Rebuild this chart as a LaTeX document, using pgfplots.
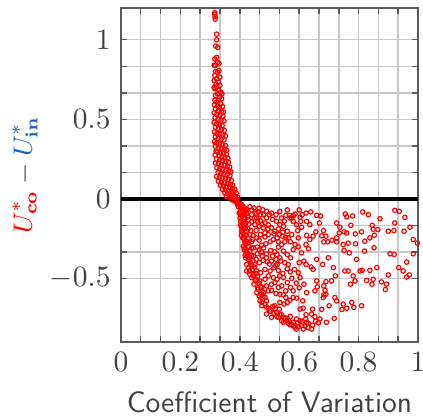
\documentclass[border=0pt]{standalone}
\usepackage{pgfplots}
\pgfplotsset{compat=1.18}
\definecolor{txtgray}{RGB}{64,64,64}
\definecolor{framegray}{RGB}{90,90,90}
\definecolor{gridgray}{RGB}{200,200,200}
\definecolor{ublue}{RGB}{30,95,185}
\begin{document}
\begin{tikzpicture}
\begin{axis}[
  scale only axis, width=100.7pt, height=113.2pt,
  xmin=0, xmax=1, ymin=-0.9, ymax=1.2,
  xtick={0,0.2,0.4,0.6,0.8,1}, ytick={-0.5,0,0.5,1},
  minor x tick num=2, minor y tick num=2,
  grid=both,
  grid style={draw=gridgray, line width=0.5pt},
  major grid style={draw=gridgray, line width=0.5pt},
  tick style={draw=framegray, line width=0.5pt},
  major tick length=2pt, minor tick length=2pt,
  axis line style={draw=framegray, line width=0.5pt},
  tick label style={text=txtgray},
  xlabel={\sffamily Coefficient of Variation},
  xlabel style={text=txtgray, at={(axis description cs:0.5,0)}, anchor=center, yshift=-20.3pt},
  ylabel={\small${\color{red}U^*_{\mathbf{co}}}\mathbin{\color{txtgray}-}{\color{ublue}U^*_{\mathbf{in}}}$},
  ylabel style={at={(axis description cs:-0.323,0.5)}, anchor=center},
]
\addplot[black, line width=1.2pt, forget plot] coordinates {(0,0) (1,0)};
\addplot[only marks, mark=o, draw=red, mark size=0.75pt, line width=0.4pt] table[row sep=\\] {
x y\\
0.316 1.170\\ 0.316 1.160\\ 0.317 1.146\\ 0.317 1.130\\ 0.322 1.035\\ 0.322 1.000\\ 0.319 0.960\\ 0.326 0.952\\
0.322 0.889\\ 0.316 0.879\\ 0.325 0.858\\ 0.318 0.838\\ 0.314 0.840\\ 0.330 0.806\\ 0.325 0.796\\ 0.316 0.775\\
0.333 0.765\\ 0.322 0.754\\ 0.314 0.744\\ 0.328 0.733\\ 0.333 0.713\\ 0.322 0.705\\ 0.316 0.692\\ 0.330 0.682\\
0.336 0.671\\ 0.325 0.660\\ 0.318 0.650\\ 0.333 0.640\\ 0.339 0.629\\ 0.328 0.619\\ 0.322 0.608\\ 0.336 0.598\\
0.316 0.620\\ 0.340 0.660\\ 0.314 0.700\\ 0.330 0.850\\ 0.318 0.800\\ 0.320 0.720\\
0.315 0.590\\ 0.325 0.585\\ 0.332 0.575\\ 0.342 0.580\\ 0.318 0.565\\ 0.328 0.555\\ 0.338 0.550\\ 0.345 0.545\\
0.314 0.540\\ 0.322 0.530\\ 0.333 0.525\\ 0.343 0.520\\ 0.317 0.510\\ 0.327 0.500\\ 0.337 0.495\\ 0.347 0.490\\
0.314 0.480\\ 0.322 0.470\\ 0.332 0.465\\ 0.341 0.460\\ 0.318 0.450\\ 0.328 0.440\\ 0.338 0.435\\ 0.348 0.430\\
0.315 0.420\\ 0.323 0.410\\ 0.333 0.405\\ 0.343 0.400\\ 0.352 0.395\\ 0.318 0.390\\ 0.327 0.380\\ 0.337 0.375\\
0.347 0.370\\ 0.315 0.360\\ 0.322 0.350\\ 0.332 0.345\\ 0.342 0.340\\ 0.352 0.335\\ 0.318 0.330\\ 0.328 0.320\\
0.338 0.315\\ 0.348 0.310\\ 0.356 0.305\\ 0.320 0.300\\
0.325 0.295\\ 0.335 0.290\\ 0.345 0.285\\ 0.355 0.280\\ 0.317 0.275\\ 0.330 0.270\\ 0.340 0.265\\ 0.350 0.260\\
0.360 0.255\\ 0.322 0.250\\ 0.333 0.245\\ 0.343 0.240\\ 0.353 0.235\\ 0.362 0.230\\ 0.318 0.225\\ 0.328 0.220\\
0.338 0.215\\ 0.348 0.210\\ 0.358 0.205\\ 0.366 0.200\\ 0.323 0.195\\ 0.333 0.190\\ 0.343 0.185\\ 0.353 0.180\\
0.363 0.175\\ 0.370 0.170\\ 0.327 0.165\\ 0.337 0.160\\ 0.347 0.155\\ 0.357 0.150\\ 0.367 0.145\\ 0.322 0.140\\
0.332 0.135\\ 0.342 0.130\\ 0.352 0.125\\ 0.362 0.120\\ 0.372 0.115\\ 0.328 0.110\\ 0.338 0.105\\ 0.348 0.100\\
0.358 0.095\\ 0.368 0.090\\ 0.376 0.085\\
0.335 0.085\\ 0.345 0.080\\ 0.355 0.075\\ 0.365 0.070\\ 0.375 0.065\\ 0.383 0.060\\ 0.342 0.060\\ 0.352 0.055\\
0.362 0.050\\ 0.372 0.045\\ 0.380 0.040\\ 0.388 0.035\\ 0.350 0.035\\ 0.360 0.030\\ 0.370 0.025\\ 0.378 0.020\\
0.386 0.015\\ 0.393 0.010\\ 0.365 0.010\\ 0.375 0.005\\ 0.384 0.000\\ 0.390 -0.005\\ 0.355 0.015\\ 0.372 -0.005\\
0.380 -0.012\\ 0.387 -0.020\\
0.384 -0.006\\ 0.389 -0.017\\ 0.395 -0.027\\ 0.398 -0.038\\ 0.401 -0.048\\ 0.406 -0.058\\ 0.392 -0.033\\ 0.403 -0.069\\
0.410 -0.079\\ 0.398 -0.090\\ 0.406 -0.104\\ 0.414 -0.131\\ 0.401 -0.121\\ 0.410 -0.152\\ 0.403 -0.163\\ 0.412 -0.179\\
0.406 -0.204\\ 0.414 -0.225\\ 0.410 -0.246\\ 0.417 -0.271\\ 0.412 -0.298\\ 0.421 -0.329\\ 0.425 -0.360\\ 0.419 -0.371\\
0.429 -0.433\\ 0.434 -0.475\\ 0.423 -0.454\\
0.395 -0.050\\ 0.400 -0.030\\ 0.405 -0.035\\ 0.410 -0.045\\ 0.415 -0.060\\ 0.420 -0.075\\ 0.413 -0.085\\ 0.402 -0.095\\
0.408 -0.110\\ 0.418 -0.100\\ 0.426 -0.115\\ 0.403 -0.140\\ 0.412 -0.145\\ 0.420 -0.155\\ 0.430 -0.160\\ 0.405 -0.175\\
0.418 -0.185\\ 0.428 -0.190\\ 0.437 -0.200\\ 0.410 -0.215\\ 0.422 -0.230\\ 0.405 -0.230\\ 0.415 -0.255\\ 0.428 -0.250\\
0.420 -0.285\\ 0.430 -0.300\\ 0.415 -0.320\\ 0.440 -0.310\\ 0.428 -0.345\\ 0.440 -0.355\\ 0.418 -0.355\\ 0.432 -0.370\\
0.445 -0.390\\ 0.438 -0.410\\ 0.450 -0.430\\ 0.442 -0.445\\ 0.455 -0.470\\ 0.445 -0.475\\ 0.460 -0.490\\ 0.452 -0.515\\
0.465 -0.530\\ 0.470 -0.550\\ 0.460 -0.560\\ 0.475 -0.580\\ 0.465 -0.610\\ 0.480 -0.590\\ 0.485 -0.620\\ 0.475 -0.650\\
0.490 -0.680\\ 0.500 -0.700\\ 0.515 -0.720\\ 0.520 -0.690\\ 0.525 -0.740\\ 0.540 -0.730\\ 0.555 -0.750\\ 0.565 -0.765\\
0.570 -0.740\\ 0.580 -0.800\\ 0.595 -0.780\\ 0.610 -0.770\\ 0.590 -0.820\\ 0.620 -0.800\\ 0.630 -0.810\\ 0.645 -0.795\\
0.655 -0.770\\ 0.665 -0.780\\
0.440 -0.070\\ 0.455 -0.090\\ 0.465 -0.060\\ 0.470 -0.100\\ 0.480 -0.100\\ 0.450 -0.120\\ 0.460 -0.140\\ 0.475 -0.160\\
0.490 -0.120\\ 0.500 -0.100\\ 0.510 -0.130\\ 0.495 -0.190\\ 0.485 -0.240\\ 0.465 -0.260\\ 0.455 -0.200\\ 0.445 -0.230\\
0.440 -0.270\\ 0.465 -0.320\\ 0.480 -0.310\\ 0.490 -0.370\\ 0.475 -0.360\\ 0.455 -0.380\\ 0.500 -0.410\\ 0.520 -0.420\\
0.510 -0.360\\ 0.525 -0.350\\ 0.530 -0.270\\ 0.515 -0.220\\ 0.530 -0.190\\ 0.545 -0.210\\ 0.550 -0.140\\ 0.535 -0.080\\
0.560 -0.070\\ 0.600 -0.070\\ 0.610 -0.100\\ 0.595 -0.200\\ 0.570 -0.270\\ 0.580 -0.320\\ 0.560 -0.440\\ 0.570 -0.460\\
0.545 -0.470\\ 0.530 -0.450\\ 0.590 -0.530\\ 0.600 -0.560\\ 0.575 -0.500\\
0.623 -0.090\\ 0.639 -0.083\\ 0.659 -0.104\\ 0.672 -0.108\\ 0.603 -0.117\\ 0.586 -0.096\\ 0.575 -0.121\\ 0.567 -0.104\\
0.605 -0.142\\ 0.760 -0.113\\ 0.780 -0.108\\ 0.755 -0.096\\ 0.814 -0.083\\ 0.833 -0.100\\ 0.872 -0.125\\ 0.922 -0.073\\
0.937 -0.079\\ 0.956 -0.117\\ 0.973 -0.179\\ 0.998 -0.279\\ 0.984 -0.256\\ 0.953 -0.204\\ 0.922 -0.152\\ 0.900 -0.204\\
0.919 -0.200\\ 0.846 -0.167\\ 0.849 -0.192\\ 0.865 -0.194\\ 0.853 -0.229\\ 0.838 -0.246\\ 0.821 -0.267\\ 0.810 -0.208\\
0.789 -0.221\\ 0.760 -0.215\\ 0.751 -0.208\\ 0.735 -0.215\\ 0.726 -0.246\\ 0.710 -0.260\\ 0.696 -0.271\\ 0.683 -0.271\\
0.676 -0.233\\ 0.682 -0.200\\ 0.656 -0.208\\ 0.636 -0.163\\ 0.668 -0.152\\ 0.726 -0.152\\ 0.737 -0.179\\ 0.774 -0.167\\
0.790 -0.283\\ 0.765 -0.279\\ 0.748 -0.288\\ 0.726 -0.271\\ 0.690 -0.235\\ 0.647 -0.235\\
0.631 -0.315\\ 0.659 -0.381\\ 0.679 -0.413\\ 0.698 -0.371\\ 0.715 -0.433\\ 0.765 -0.454\\ 0.754 -0.454\\ 0.805 -0.454\\
0.812 -0.450\\ 0.838 -0.450\\ 0.861 -0.433\\ 0.793 -0.381\\ 0.751 -0.325\\ 0.769 -0.340\\ 0.820 -0.329\\ 0.852 -0.308\\
0.906 -0.346\\ 0.920 -0.350\\ 0.935 -0.433\\ 0.962 -0.398\\ 0.984 -0.346\\ 0.950 -0.454\\ 0.900 -0.479\\ 0.962 -0.492\\
0.971 -0.479\\ 0.849 -0.506\\ 0.845 -0.537\\ 0.877 -0.523\\ 0.890 -0.571\\ 0.894 -0.537\\ 0.782 -0.485\\ 0.788 -0.517\\
0.773 -0.537\\ 0.827 -0.513\\ 0.722 -0.485\\ 0.709 -0.517\\ 0.690 -0.521\\ 0.683 -0.548\\ 0.687 -0.575\\ 0.661 -0.554\\
0.653 -0.579\\ 0.659 -0.517\\ 0.640 -0.429\\ 0.647 -0.444\\ 0.681 -0.621\\ 0.683 -0.604\\ 0.690 -0.600\\ 0.720 -0.621\\
0.726 -0.642\\ 0.777 -0.652\\ 0.748 -0.662\\ 0.760 -0.688\\ 0.784 -0.683\\ 0.810 -0.673\\ 0.744 -0.696\\ 0.701 -0.673\\
0.676 -0.696\\ 0.645 -0.694\\ 0.642 -0.725\\ 0.623 -0.729\\ 0.603 -0.694\\ 0.614 -0.688\\ 0.612 -0.642\\ 0.591 -0.625\\
0.625 -0.590\\ 0.616 -0.537\\ 0.603 -0.496\\ 0.623 -0.413\\ 0.616 -0.392\\ 0.600 -0.402\\ 0.597 -0.465\\ 0.584 -0.444\\
0.608 -0.340\\ 0.623 -0.288\\ 0.597 -0.302\\ 0.586 -0.288\\ 0.636 -0.256\\ 0.597 -0.246\\ 0.625 -0.231\\ 0.608 -0.179\\
0.625 -0.142\\ 0.591 -0.163\\ 0.580 -0.142\\ 0.653 -0.742\\ 0.670 -0.756\\ 0.692 -0.777\\ 0.718 -0.752\\ 0.622 -0.756\\
0.631 -0.783\\ 0.608 -0.798\\ 0.614 -0.819\\ 0.597 -0.804\\ 0.586 -0.808\\ 0.642 -0.819\\ 0.575 -0.792\\ 0.563 -0.783\\
0.558 -0.767\\ 0.541 -0.767\\ 0.549 -0.746\\ 0.535 -0.725\\ 0.524 -0.715\\ 0.533 -0.694\\ 0.504 -0.708\\ 0.496 -0.688\\
0.511 -0.677\\ 0.518 -0.673\\ 0.535 -0.652\\ 0.549 -0.662\\ 0.560 -0.652\\ 0.569 -0.638\\ 0.580 -0.621\\ 0.555 -0.621\\
0.547 -0.604\\ 0.535 -0.600\\ 0.522 -0.596\\ 0.507 -0.575\\ 0.496 -0.579\\ 0.479 -0.610\\ 0.477 -0.631\\ 0.490 -0.642\\
0.485 -0.662\\ 0.470 -0.600\\ 0.462 -0.569\\ 0.474 -0.558\\ 0.490 -0.548\\ 0.507 -0.537\\ 0.518 -0.527\\ 0.526 -0.506\\
0.535 -0.485\\ 0.547 -0.496\\ 0.560 -0.527\\ 0.571 -0.558\\ 0.580 -0.579\\ 0.555 -0.579\\ 0.541 -0.548\\ 0.530 -0.558\\
0.513 -0.496\\ 0.496 -0.485\\ 0.485 -0.506\\ 0.468 -0.517\\ 0.455 -0.506\\ 0.446 -0.485\\ 0.457 -0.454\\ 0.470 -0.465\\
0.485 -0.444\\ 0.502 -0.454\\ 0.515 -0.433\\ 0.526 -0.413\\ 0.538 -0.392\\ 0.552 -0.402\\ 0.563 -0.413\\ 0.571 -0.371\\
0.560 -0.350\\ 0.547 -0.329\\ 0.535 -0.371\\ 0.522 -0.381\\ 0.507 -0.392\\ 0.493 -0.396\\ 0.479 -0.387\\ 0.466 -0.402\\
0.451 -0.413\\ 0.440 -0.423\\ 0.434 -0.392\\ 0.446 -0.360\\ 0.459 -0.346\\ 0.474 -0.333\\ 0.490 -0.346\\ 0.504 -0.325\\
0.518 -0.333\\ 0.530 -0.304\\ 0.541 -0.288\\ 0.552 -0.271\\ 0.563 -0.246\\ 0.575 -0.225\\ 0.560 -0.204\\ 0.547 -0.173\\
0.535 -0.163\\ 0.524 -0.142\\ 0.541 -0.121\\ 0.555 -0.104\\ 0.569 -0.121\\ 0.580 -0.106\\ 0.522 -0.100\\ 0.507 -0.090\\
0.490 -0.079\\ 0.477 -0.069\\ 0.462 -0.083\\ 0.448 -0.058\\ 0.434 -0.050\\ 0.423 -0.063\\ 0.440 -0.100\\ 0.457 -0.121\\
0.470 -0.138\\ 0.485 -0.152\\ 0.496 -0.163\\ 0.507 -0.183\\ 0.518 -0.204\\ 0.533 -0.225\\ 0.544 -0.235\\ 0.555 -0.242\\
0.526 -0.246\\ 0.513 -0.256\\ 0.502 -0.271\\ 0.488 -0.283\\ 0.474 -0.292\\ 0.459 -0.304\\ 0.446 -0.308\\ 0.434 -0.329\\
0.423 -0.340\\ 0.417 -0.308\\ 0.429 -0.277\\ 0.443 -0.256\\ 0.457 -0.246\\ 0.470 -0.225\\ 0.485 -0.215\\ 0.496 -0.225\\
0.479 -0.183\\ 0.466 -0.173\\ 0.451 -0.163\\ 0.440 -0.146\\ 0.429 -0.131\\ 0.417 -0.117\\ 0.410 -0.096\\ 0.423 -0.090\\
0.417 -0.163\\ 0.410 -0.194\\ 0.423 -0.204\\ 0.434 -0.225\\ 0.412 -0.246\\ 0.423 -0.267\\ 0.429 -0.381\\ 0.423 -0.413\\
0.432 -0.454\\ 0.440 -0.496\\ 0.448 -0.537\\ 0.457 -0.590\\ 0.468 -0.642\\ 0.474 -0.673\\ 0.490 -0.725\\ 0.507 -0.746\\
0.530 -0.746\\ 0.547 -0.777\\ 0.569 -0.792\\ 0.580 -0.777\\ 0.591 -0.756\\ 0.603 -0.767\\ 0.625 -0.777\\
};
\end{axis}
\pgfresetboundingbox
\path[use as bounding box] ([xshift=-41pt, yshift=-25.4pt]current axis.south west) rectangle ([xshift=1.7pt, yshift=2.7pt]current axis.north east);
\end{tikzpicture}
\end{document}
